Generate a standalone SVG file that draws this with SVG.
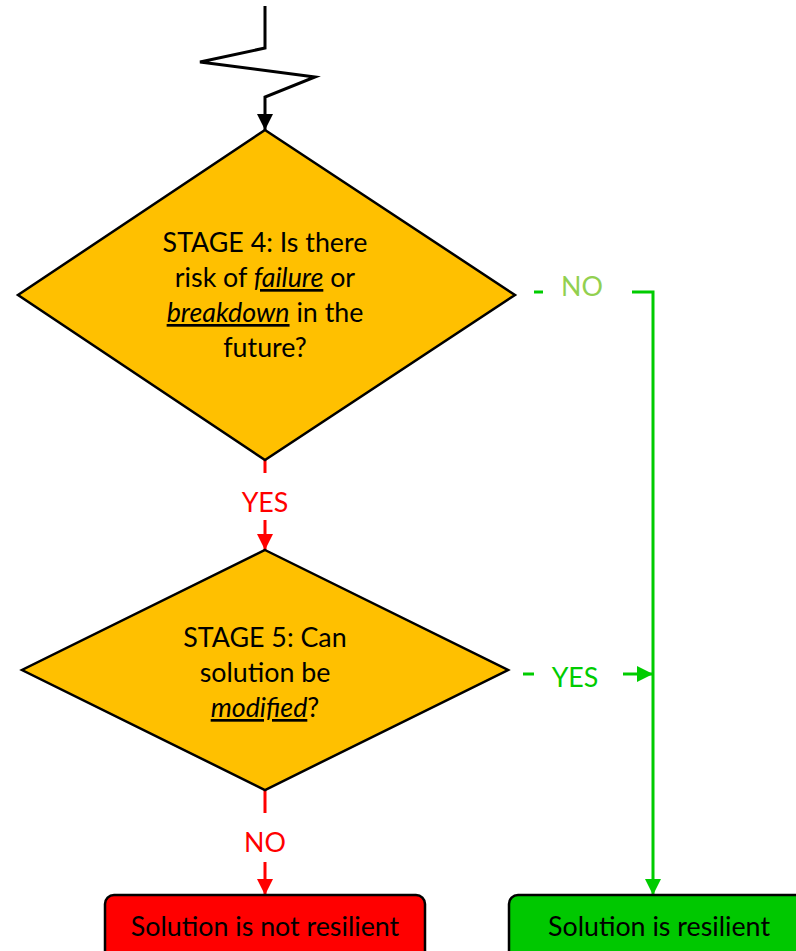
<svg xmlns="http://www.w3.org/2000/svg" width="796" height="951" viewBox="0 0 796 951">
<style>
.t{font-family:Lato,"Liberation Sans",sans-serif;font-size:26.8px;text-anchor:middle}
.dia{fill:#FFC000;stroke:#000;stroke-width:2.5;stroke-linejoin:miter}
.u{font-style:italic;text-decoration:underline}
.k{fill:none;stroke:#000;stroke-width:3}
.r{fill:none;stroke:#FF0000;stroke-width:3}
.g{fill:none;stroke:#00CC00;stroke-width:3}
</style>
<defs>
<marker id="ak" markerWidth="16" markerHeight="16" viewBox="0 0 10 10" refX="10" refY="5" markerUnits="userSpaceOnUse" orient="auto"><path d="M0,0 L10,5 L0,10 z" fill="#000"/></marker>
<marker id="ar" markerWidth="16" markerHeight="16" viewBox="0 0 10 10" refX="10" refY="5" markerUnits="userSpaceOnUse" orient="auto"><path d="M0,0 L10,5 L0,10 z" fill="#FF0000"/></marker>
<marker id="ag" markerWidth="16" markerHeight="16" viewBox="0 0 10 10" refX="10" refY="5" markerUnits="userSpaceOnUse" orient="auto"><path d="M0,0 L10,5 L0,10 z" fill="#00CC00"/></marker>
</defs>
<g id="connectors">
<polyline class="k" points="265,6 265,48 200,62 315,77 265,97 265,130" marker-end="url(#ak)"/>
<line class="r" x1="265" y1="460" x2="265" y2="473"/>
<line class="r" x1="265" y1="520" x2="265" y2="550" marker-end="url(#ar)"/>
<line class="r" x1="265" y1="790" x2="265" y2="813"/>
<line class="r" x1="265" y1="862" x2="265" y2="895" marker-end="url(#ar)"/>
<line class="g" x1="534" y1="292" x2="543" y2="292"/>
<polyline class="g" points="632,292 653,292 653,895" marker-end="url(#ag)"/>
<line class="g" x1="523" y1="674" x2="534" y2="674"/>
<line class="g" x1="623" y1="674" x2="653" y2="674" marker-end="url(#ag)"/>
<text class="t" x="265" y="512" fill="#FF0000">YES</text>
<text class="t" x="265" y="852" fill="#FF0000">NO</text>
<text class="t" x="582" y="296" fill="#92D050">NO</text>
<text class="t" x="575" y="687" fill="#00CC00">YES</text>
</g>
<g id="stage4">
<polygon class="dia" points="265,130 515,295 265,460 18,295"/>
<text class="t" x="265" y="252">STAGE 4: Is there</text>
<text class="t" x="265" y="287">risk of <tspan class="u">failure</tspan> or</text>
<text class="t" x="265" y="322"><tspan class="u">breakdown</tspan> in the</text>
<text class="t" x="265" y="357">future?</text>
</g>
<g id="stage5">
<polygon class="dia" points="265,550 508,670 265,790 22,670"/>
<text class="t" x="265" y="647">STAGE 5: Can</text>
<text class="t" x="265" y="682">solution be</text>
<text class="t" x="265" y="717"><tspan class="u">modified</tspan>?</text>
</g>
<g id="not-resilient">
<rect x="105" y="895" width="320" height="80" rx="9" fill="#FF0000" stroke="#000" stroke-width="2.5"/>
<text class="t" x="265" y="936">Solution is not resilient</text>
</g>
<g id="resilient">
<rect x="509" y="895" width="300" height="80" rx="9" fill="#00C800" stroke="#000" stroke-width="2.5"/>
<text class="t" x="659" y="936">Solution is resilient</text>
</g>
</svg>
